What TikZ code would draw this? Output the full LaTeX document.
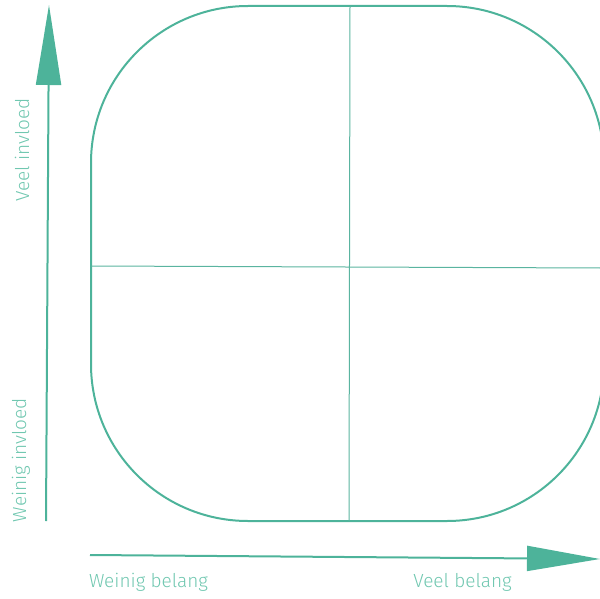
\documentclass[tikz,border=0pt]{standalone}
\usepackage{fontspec}
\setmainfont{Fira Sans}[UprightFont=* Light]
\usetikzlibrary{arrows.meta}
\definecolor{teal1}{RGB}{77,179,154}
\definecolor{tealtext}{RGB}{112,199,176}
\definecolor{tealthin}{RGB}{90,180,160}
\tikzset{
  boxline/.style={draw=teal1, line width=2pt},
  divider/.style={draw=tealthin, line width=1pt},
  axis/.style={draw=teal1, line width=2pt, teal1},
  axislabel/.style={text=tealtext, font=\fontsize{19}{21}\selectfont, inner sep=0pt}
}
\begin{document}
\begin{tikzpicture}[x=1pt,y=-1pt]
\useasboundingbox (0,0) rectangle (600,599);
\clip (0,0) rectangle (600,599);
\draw[boxline, rounded corners=157pt] (91,6) rectangle (604,521);
\coordinate (vtop) at (350,6);
\coordinate (vbot) at (349,521);
\coordinate (hl) at (91,266);
\coordinate (hr) at (600,268);
\draw[divider] (vtop) -- (vbot);
\draw[divider] (hl) -- (hr);
\coordinate (ya) at (46,521);
\coordinate (yb) at (49,5);
\coordinate (xa) at (90,555);
\coordinate (xb) at (600,559);
\draw[axis, -{Triangle[length=80pt,width=25pt]}] (ya) -- (yb);
\draw[axis, -{Triangle[length=73pt,width=25pt]}] (xa) -- (xb);
\node[axislabel, rotate=90] (veelinv) at (22,150) {Veel invloed};
\node[axislabel, rotate=90] (weiniginv) at (21,460) {Weinig invloed};
\node[axislabel] (weinigbel) at (148.5,582) {Weinig belang};
\node[axislabel] (veelbel) at (462.5,582) {Veel belang};
\end{tikzpicture}
\end{document}
